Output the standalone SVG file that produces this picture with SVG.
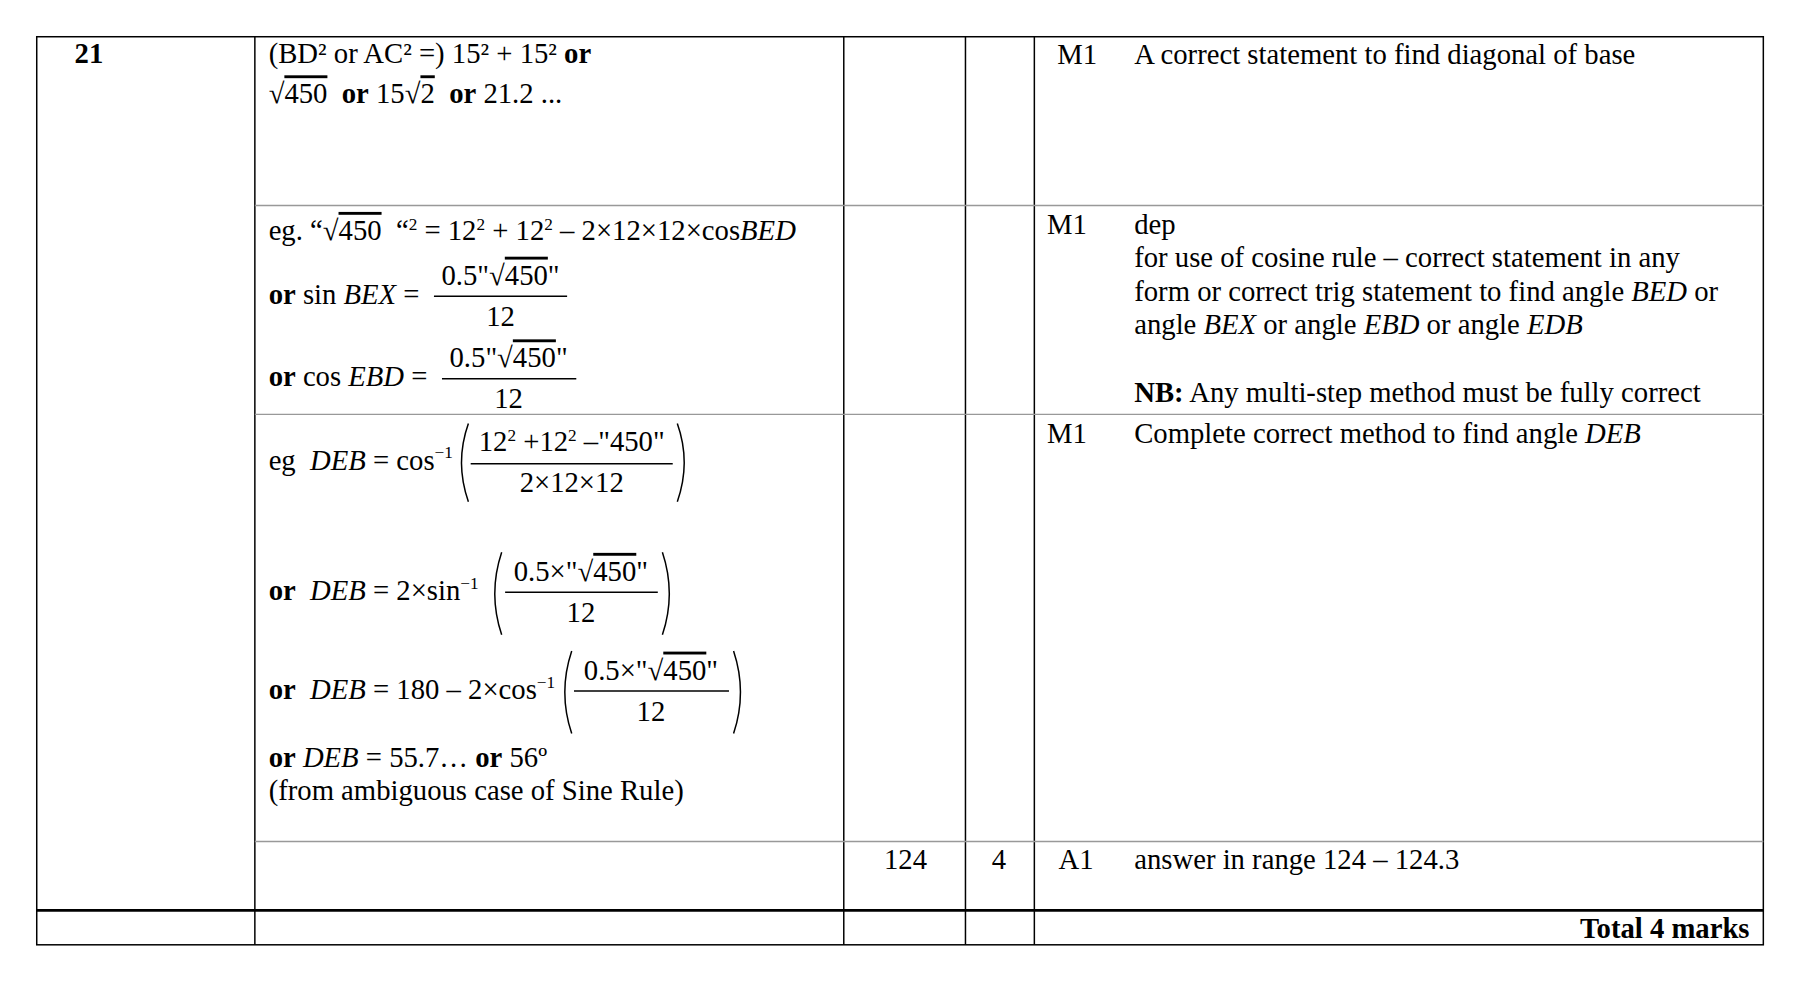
<svg xmlns="http://www.w3.org/2000/svg" width="1800" height="981" viewBox="0 0 1800 981">
<style>
text{font-family:"Liberation Serif","Times New Roman",serif;font-size:25px;fill:#000;white-space:pre}
.b{font-weight:bold}.i{font-style:italic}
.ov{text-decoration:overline}
.ln{stroke:#000;stroke-width:1.3;fill:none}
.gl{stroke:#999;stroke-width:1.2}
.sup{font-size:15px}
</style>
<rect width="1800" height="981" fill="#fff"/>
<g transform="scale(1.148)">
<g id="grid">
<rect x="32" y="32" width="1504" height="791" class="ln"/>
<line x1="222" y1="32" x2="222" y2="823" class="ln"/>
<line x1="735" y1="32" x2="735" y2="823" class="ln"/>
<line x1="841" y1="32" x2="841" y2="823" class="ln"/>
<line x1="901" y1="32" x2="901" y2="823" class="ln"/>
<line x1="222" y1="179" x2="1536" y2="179" class="gl"/>
<line x1="222" y1="361" x2="1536" y2="361" class="gl"/>
<line x1="222" y1="733" x2="1536" y2="733" class="gl"/>
<line x1="32" y1="793" x2="1536" y2="793" stroke="#000" stroke-width="2.2"/>
</g>
<g id="row1">
<text x="65" y="55" class="b">21</text>
<text x="234" y="55">(BD² or AC² =) 15² + 15² <tspan class="b">or</tspan></text>
<text x="234" y="90">√<tspan class="ov">450</tspan>  <tspan class="b">or</tspan> 15√<tspan class="ov">2</tspan>  <tspan class="b">or</tspan> 21.2 ...</text>
<text x="921" y="56">M1</text>
<text x="988" y="56">A correct statement to find diagonal of base</text>
</g>
<g id="row2">
<text x="234" y="209">eg. “√<tspan class="ov">450</tspan>  “<tspan class="sup" dy="-9">2</tspan><tspan dy="9"> = 12</tspan><tspan class="sup" dy="-9">2</tspan><tspan dy="9"> + 12</tspan><tspan class="sup" dy="-9">2</tspan><tspan dy="9"> – 2×12×12×cos</tspan><tspan class="i">BED</tspan></text>
<text x="234" y="265"><tspan class="b">or</tspan> sin <tspan class="i">BEX</tspan> =</text>
<text x="436" y="248" text-anchor="middle">0.5"√<tspan class="ov">450</tspan>"</text>
<line x1="378" y1="258" x2="494" y2="258" class="ln"/>
<text x="436" y="284" text-anchor="middle">12</text>
<text x="234" y="336"><tspan class="b">or</tspan> cos <tspan class="i">EBD</tspan> =</text>
<text x="443" y="320" text-anchor="middle">0.5"√<tspan class="ov">450</tspan>"</text>
<line x1="385" y1="330" x2="502" y2="330" class="ln"/>
<text x="443" y="355" text-anchor="middle">12</text>
<text x="912" y="204">M1</text>
<text x="988" y="204">dep</text>
<text x="988" y="233">for use of cosine rule – correct statement in any</text>
<text x="988" y="262">form or correct trig statement to find angle <tspan class="i">BED</tspan> or</text>
<text x="988" y="291">angle <tspan class="i">BEX</tspan> or angle <tspan class="i">EBD</tspan> or angle <tspan class="i">EDB</tspan></text>
<text x="988" y="350"><tspan class="b">NB:</tspan> Any multi-step method must be fully correct</text>
</g>
<g id="row3">
<text x="234" y="409">eg  <tspan class="i">DEB</tspan> = cos<tspan class="sup" dy="-10">−1</tspan></text>
<path d="M408 369 Q396 403 408 437" class="ln"/>
<text x="498" y="393" text-anchor="middle">12<tspan class="sup" dy="-9">2</tspan><tspan dy="9"> +12</tspan><tspan class="sup" dy="-9">2</tspan><tspan dy="9"> –"450"</tspan></text>
<line x1="410" y1="404" x2="586" y2="404" class="ln"/>
<text x="498" y="429" text-anchor="middle">2×12×12</text>
<path d="M590 369 Q602 403 590 437" class="ln"/>
<text x="234" y="523"><tspan class="b">or</tspan>  <tspan class="i">DEB</tspan> = 2×sin<tspan class="sup" dy="-10">−1</tspan></text>
<path d="M437 481 Q425 517 437 553" class="ln"/>
<text x="506" y="506" text-anchor="middle">0.5×"√<tspan class="ov">450</tspan>"</text>
<line x1="440" y1="516" x2="573" y2="516" class="ln"/>
<text x="506" y="542" text-anchor="middle">12</text>
<path d="M577 481 Q589 517 577 553" class="ln"/>
<text x="234" y="609"><tspan class="b">or</tspan>  <tspan class="i">DEB</tspan> = 180 – 2×cos<tspan class="sup" dy="-10">−1</tspan></text>
<path d="M498 567 Q486 603 498 639" class="ln"/>
<text x="567" y="592" text-anchor="middle">0.5×"√<tspan class="ov">450</tspan>"</text>
<line x1="500" y1="602" x2="635" y2="602" class="ln"/>
<text x="567" y="628" text-anchor="middle">12</text>
<path d="M639 567 Q651 603 639 639" class="ln"/>
<text x="234" y="668"><tspan class="b">or</tspan> <tspan class="i">DEB</tspan> = 55.7… <tspan class="b">or</tspan> 56º</text>
<text x="234" y="697">(from ambiguous case of Sine Rule)</text>
<text x="912" y="386">M1</text>
<text x="988" y="386">Complete correct method to find angle <tspan class="i">DEB</tspan></text>
</g>
<g id="row4">
<text x="770" y="757">124</text>
<text x="864" y="757">4</text>
<text x="922" y="757">A1</text>
<text x="988" y="757">answer in range 124 – 124.3</text>
</g>
<g id="row5">
<text x="1524" y="817" class="b" text-anchor="end">Total 4 marks</text>
</g>
</g>
</svg>
